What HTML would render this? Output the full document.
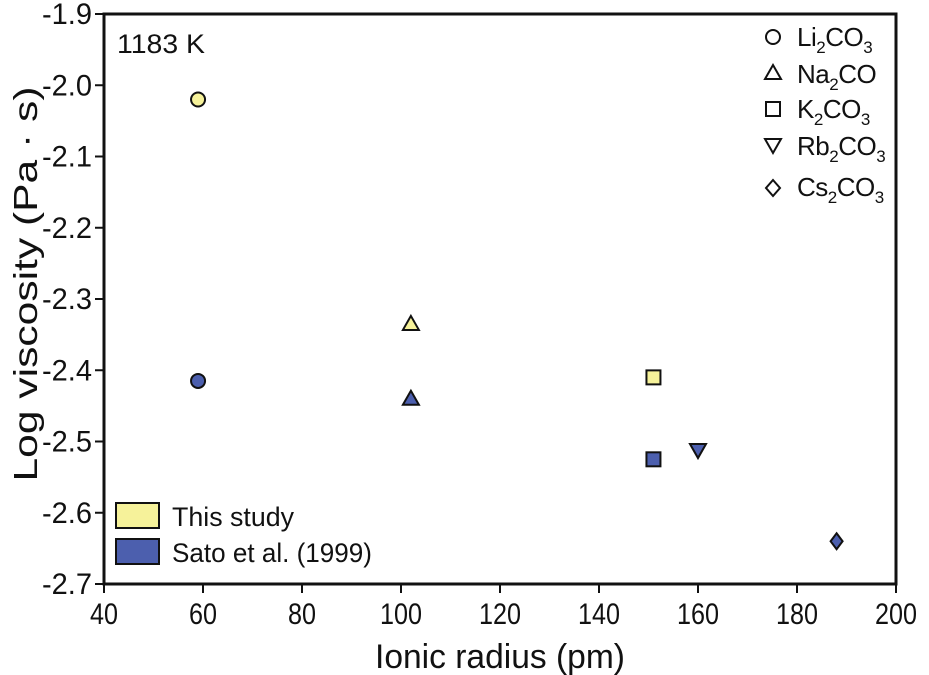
<!DOCTYPE html>
<html><head><meta charset="utf-8"><style>
body{margin:0;background:#fff}
svg{display:block;font-family:"Liberation Sans",sans-serif}
text{fill:#111}
</style></head><body>
<svg id="chart" width="929" height="675" viewBox="0 0 929 675">
<g id="axes"></g><g id="marks"></g>
<g font-size="26" letter-spacing="-0.5">
 <circle cx="773" cy="37" r="7" fill="#fff" stroke="#111" stroke-width="2"/>
 <text x="797" y="46">Li<tspan font-size="17" dy="7">2</tspan><tspan dy="-7">CO</tspan><tspan font-size="17" dy="7">3</tspan></text>
 <polygon points="773,65 781,79 765,79" fill="#fff" stroke="#111" stroke-width="2"/>
 <text x="797" y="83">Na<tspan font-size="17" dy="7">2</tspan><tspan dy="-7">CO</tspan></text>
 <rect x="766" y="102" width="14" height="14" fill="#fff" stroke="#111" stroke-width="2"/>
 <text x="797" y="118">K<tspan font-size="17" dy="7">2</tspan><tspan dy="-7">CO</tspan><tspan font-size="17" dy="7">3</tspan></text>
 <polygon points="765,139 781,139 773,153" fill="#fff" stroke="#111" stroke-width="2"/>
 <text x="797" y="155">Rb<tspan font-size="17" dy="7">2</tspan><tspan dy="-7">CO</tspan><tspan font-size="17" dy="7">3</tspan></text>
 <polygon points="773,180 780,188 773,196 766,188" fill="#fff" stroke="#111" stroke-width="2"/>
 <text x="797" y="196">Cs<tspan font-size="17" dy="7">2</tspan><tspan dy="-7">CO</tspan><tspan font-size="17" dy="7">3</tspan></text>
</g>
<text x="117" y="53" font-size="27" textLength="88" lengthAdjust="spacingAndGlyphs">1183 K</text>
<g font-size="27">
 <rect x="116" y="503" width="43" height="25" fill="#f6f29a" stroke="#111" stroke-width="2"/>
 <text x="172" y="526" textLength="122" lengthAdjust="spacingAndGlyphs">This study</text>
 <rect x="116" y="539" width="43" height="25" fill="#4c5fae" stroke="#111" stroke-width="2"/>
 <text x="172" y="562" textLength="200" lengthAdjust="spacingAndGlyphs">Sato et al. (1999)</text>
</g>
<text x="500" y="668" font-size="34" text-anchor="middle" textLength="250" lengthAdjust="spacingAndGlyphs">Ionic radius (pm)</text>
<text transform="translate(37,284) rotate(-90)" font-size="33" text-anchor="middle" textLength="395" lengthAdjust="spacingAndGlyphs">Log viscosity (Pa · s)</text>
</svg>
<script>
const xTicks=[40,60,80,100,120,140,160,180,200];
const yTicks=[-1.9,-2.0,-2.1,-2.2,-2.3,-2.4,-2.5,-2.6,-2.7];
const thisX=[59,102,151];
const thisY=[-2.02,-2.335,-2.41];
const thisShape=["circle","up","square"];
const satoX=[59,102,151,160,188];
const satoY=[-2.415,-2.44,-2.525,-2.512,-2.64];
const satoShape=["circle","up","square","down","diamond"];
const X0=104,X1=896,Y0=14,Y1=584;
const sx=v=>X0+(v-40)/160*(X1-X0);
const sy=v=>Y0+(-1.9-v)/0.8*(Y1-Y0);
const NS="http://www.w3.org/2000/svg";
const axes=document.getElementById('axes'),marks=document.getElementById('marks');
function mk(t,a,p){const e=document.createElementNS(NS,t);for(const k in a)e.setAttribute(k,a[k]);p.appendChild(e);return e;}
const frame=mk('rect',{x:X0,y:Y0,width:X1-X0,height:Y1-Y0,fill:'none',stroke:'#111','stroke-width':3},axes);


xTicks.forEach(v=>{const x=sx(v);
 mk('line',{x1:x,x2:x,y1:Y1,y2:Y1+9,stroke:'#111','stroke-width':2},axes);
 const t=mk('text',{x:x,y:Y1+40,'font-size':30,'text-anchor':'middle',textLength:(String(v).length*14),lengthAdjust:'spacingAndGlyphs'},axes);t.textContent=v;
 
 });
yTicks.forEach(v=>{const y=sy(v);
 mk('line',{x1:X0-9,x2:X0,y1:y,y2:y,stroke:'#111','stroke-width':2},axes);
 const t=mk('text',{x:X0-12,y:y+10,'font-size':30,'text-anchor':'end',textLength:50,lengthAdjust:'spacingAndGlyphs'},axes);t.textContent=v.toFixed(1);
 
 });
function sym(shape,x,y,fill){let e;const s={fill:fill,stroke:'#111','stroke-width':2};
 if(shape==='circle')e=mk('circle',Object.assign({cx:x,cy:y,r:7},s),marks);
 else if(shape==='square')e=mk('rect',Object.assign({x:x-7,y:y-7,width:14,height:14},s),marks);
 else if(shape==='up')e=mk('polygon',Object.assign({points:`${x},${y-8} ${x+8},${y+6} ${x-8},${y+6}`},s),marks);
 else if(shape==='down')e=mk('polygon',Object.assign({points:`${x-8},${y-6} ${x+8},${y-6} ${x},${y+8}`},s),marks);
 else e=mk('polygon',Object.assign({points:`${x},${y-8} ${x+6},${y} ${x},${y+8} ${x-6},${y}`},s),marks);
 return e;}
thisX.forEach((v,i)=>{const e=sym(thisShape[i],sx(v),sy(thisY[i]),'#f6f29a');
 
 });
satoX.forEach((v,i)=>{const e=sym(satoShape[i],sx(v),sy(satoY[i]),'#4c5fae');
 
 });
</script>
</body></html>
